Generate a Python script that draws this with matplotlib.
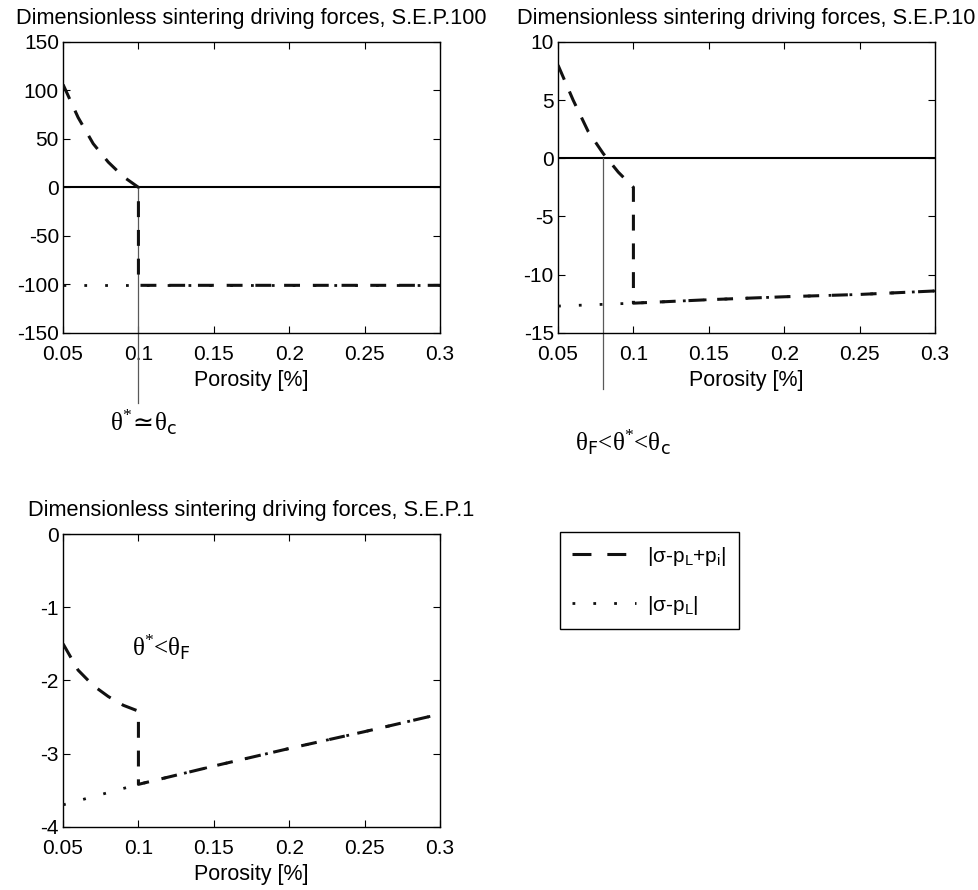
import numpy as np
import matplotlib
matplotlib.use("Agg")
import matplotlib.pyplot as plt
from matplotlib.lines import Line2D
from matplotlib.ticker import FormatStrFormatter

plt.rcParams["font.family"] = ["Liberation Sans", "DejaVu Sans"]
plt.rcParams["axes.unicode_minus"] = False

# porosity samples (dashed curve has a jump at 0.1)
x_dash = [0.05, 0.06, 0.07, 0.08, 0.09, 0.1, 0.1, 0.15, 0.2, 0.25, 0.3]
x_dot = [0.05, 0.1, 0.15, 0.2, 0.25, 0.3]

# S.E.P.100
sep100_pi = [106, 72, 45, 26, 11, 0, -101, -101, -101, -101, -101]
sep100_pl = [-101, -101, -101, -101, -101, -101]
# S.E.P.10
sep10_pi = [8.0, 5.0, 2.3, 0.4, -1.2, -2.5, -12.45, -12.15, -11.9, -11.7, -11.4]
sep10_pl = [-12.7, -12.45, -12.15, -11.9, -11.7, -11.4]
# S.E.P.1
sep1_pi = [-1.5, -1.86, -2.07, -2.22, -2.34, -2.42, -3.42, -3.17, -2.93, -2.70, -2.46]
sep1_pl = [-3.70, -3.42, -3.17, -2.93, -2.70, -2.46]

titles = ["Dimensionless sintering driving forces, S.E.P.100",
          "Dimensionless sintering driving forces, S.E.P.10",
          "Dimensionless sintering driving forces, S.E.P.1"]
xticks = [0.05, 0.1, 0.15, 0.2, 0.25, 0.3]

dash_style = dict(color="#111111", lw=2.2, dashes=(5.2, 4.2))
dot_style = dict(color="#111111", lw=2.0, dashes=(1.0, 6.5))

fig = plt.figure(figsize=(9.79, 8.9), dpi=100)
ax1 = fig.add_axes([0.0644, 0.626, 0.385, 0.327])
ax2 = fig.add_axes([0.570, 0.626, 0.385, 0.327])
ax3 = fig.add_axes([0.0644, 0.071, 0.385, 0.329])

panels = [
    (ax1, sep100_pi, sep100_pl, (-150, 150), np.arange(-150, 151, 50)),
    (ax2, sep10_pi, sep10_pl, (-15, 10), np.arange(-15, 11, 5)),
    (ax3, sep1_pi, sep1_pl, (-4, 0), np.arange(-4, 1, 1)),
]

for (ax, ypi, ypl, ylim, yt), title in zip(panels, titles):
    ax.axhline(0, color="black", lw=1.5, zorder=1)
    ax.plot(x_dash, ypi, **dash_style, zorder=3)
    ax.plot(x_dot, ypl, **dot_style, zorder=3)
    ax.set_xlim(0.05, 0.3)
    ax.set_ylim(*ylim)
    ax.set_xticks(xticks)
    ax.set_yticks(yt)
    ax.xaxis.set_major_formatter(FormatStrFormatter("%g"))
    ax.tick_params(direction="in", top=True, right=True, labelsize=15,
                   length=5, width=0.8)
    ax.tick_params(axis="x", pad=9)
    ax.tick_params(axis="y", pad=3)
    for s in ax.spines.values():
        s.set_linewidth(1.0)
    ax.set_xlabel("Porosity [%]", fontsize=15.5, labelpad=4)
    ax.set_title(title, fontsize=15.7, pad=13)

# critical porosity markers
ax1.plot([0.1, 0.1], [0, -222], color="0.35", lw=0.9, clip_on=False, zorder=2)
ax2.plot([0.08, 0.08], [0, -19.8], color="0.35", lw=0.9, clip_on=False, zorder=2)

serif = "Liberation Serif"
fig.text(0.112, 0.516, r"θ$^\mathregular{*}\!\simeq\!$θ$_\mathsf{c}$",
         family=serif, fontsize=18)
fig.text(0.587, 0.494, r"θ$_\mathsf{F}$<θ$^\mathregular{*}$<θ$_\mathsf{c}$",
         family=serif, fontsize=18)
ax3.text(0.096, -1.55, r"θ$^\mathregular{*}$<θ$_\mathsf{F}$", family=serif, fontsize=18,
         va="center")

leg_dash = dict(color="#111111", lw=2.2, dashes=(6.2, 5.2))
handles = [Line2D([], [], **leg_dash), Line2D([], [], **dot_style)]
labels = [r"|σ-p$\mathregular{_L}$+p$\mathregular{_i}$|", r"|σ-p$\mathregular{_L}$|"]
fig.legend(handles, labels, loc="upper left", bbox_to_anchor=(0.572, 0.4022),
           borderaxespad=0, fontsize=15, fancybox=False, edgecolor="black",
           framealpha=1, handlelength=3.07, borderpad=0.6, labelspacing=1.25,
           handletextpad=0.5)

fig.savefig("out.png", dpi=100)
